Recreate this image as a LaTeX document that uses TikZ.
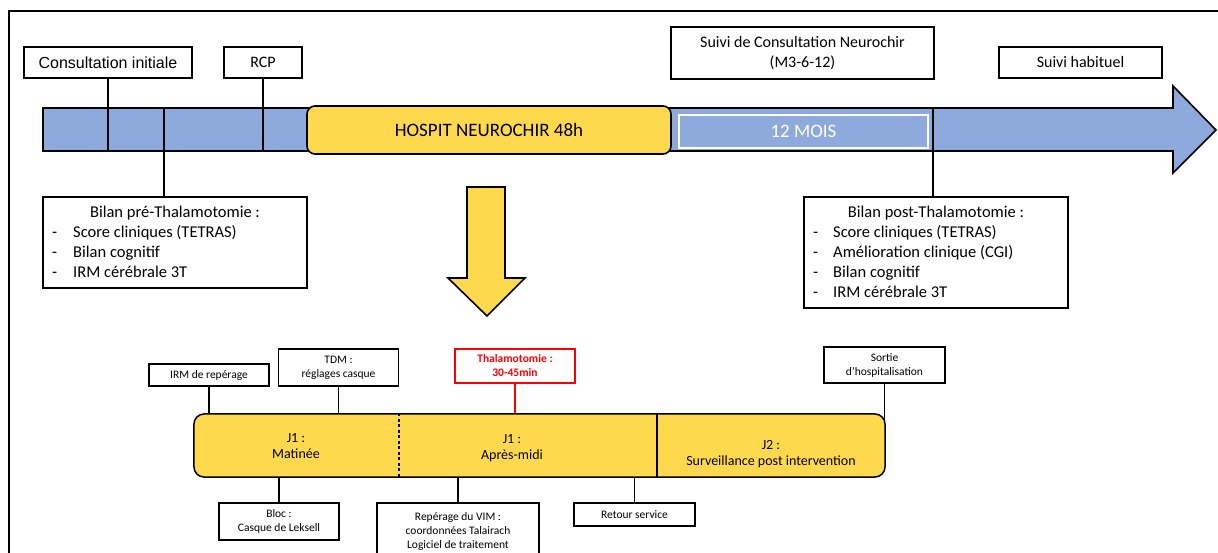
\documentclass[tikz,border=0pt]{standalone}
\usepackage{fontspec}
\setmainfont{Carlito}
\newfontfamily\arialf{Liberation Sans}
\definecolor{barblue}{RGB}{142,169,219}
\definecolor{hyellow}{RGB}{255,217,77}
\definecolor{tred}{RGB}{255,0,0}
\begin{document}
\begin{tikzpicture}[x=1bp,y=-1bp,
  box/.style={draw=black, line width=1.6bp, fill=white, inner sep=0pt, font=\fontsize{16bp}{20bp}\selectfont, align=center},
  sbox/.style={draw=black, line width=1.3bp, fill=white, inner sep=0pt, font=\fontsize{11.5bp}{14bp}\selectfont, align=center},
  link/.style={line width=1.8bp},
  slink/.style={line width=1.4bp},
  btxt/.style={inner sep=0pt, anchor=base, font=\fontsize{16.5bp}{20bp}\selectfont},
  ltxt/.style={inner sep=0pt, anchor=base west, font=\fontsize{16.5bp}{20bp}\selectfont},
  daytxt/.style={inner sep=0pt, align=center, font=\fontsize{14bp}{16bp}\selectfont}]
\useasboundingbox (0,0) rectangle (1218,553);
% outer frame
\draw[line width=1.4bp] (9,553) -- (9,11) -- (1218,11);
% timeline arrow
\draw[line width=1.6bp, fill=barblue, line join=miter] (43,108) -- (1173,108) -- (1173,86) -- (1216,130) -- (1173,173) -- (1173,151) -- (43,151) -- cycle;
\coordinate (barbot) at (0,151);
\coordinate (bartop) at (0,108);
% hospit box
\node[draw=black, line width=1.6bp, fill=hyellow, rounded corners=8bp, minimum width=364bp, minimum height=48bp, inner sep=0pt, font=\fontsize{19bp}{22bp}\selectfont] (hosp) at (489,130) {HOSPIT NEUROCHIR 48h};
\node[draw=white, line width=1.6bp, fill=barblue, minimum width=249bp, minimum height=33bp, inner sep=0pt, text=white, font=\fontsize{19bp}{22bp}\selectfont] (mois) at (803.5,131.5) {12 MOIS};
% top boxes
\node[box, minimum width=168bp, minimum height=31bp, font=\arialf\fontsize{16bp}{20bp}\selectfont] (ci) at (108,62.5) {Consultation initiale};
\node[box, minimum width=78bp, minimum height=31bp] (rcp) at (263,62.5) {RCP};
\node[box, minimum width=263bp, minimum height=52bp] (suivi) at (802.5,53) {Suivi de Consultation Neurochir\\(M3-6-12)};
\node[box, minimum width=163bp, minimum height=31bp] (hab) at (1080.5,62.5) {Suivi habituel};
\draw[link] (ci.south) -- (ci.south |- barbot);
\draw[link] (rcp.south) -- (rcp.south |- barbot);
% bilan boxes
\node[box, minimum width=264bp, minimum height=91bp] (bpre) at (175,242.5) {};
\node[box, minimum width=264bp, minimum height=111bp] (bpost) at (936,252.5) {};
\coordinate (t1) at (164,108);
\coordinate (t2) at (933,108);
\draw[link] (t1) -- (t1 |- bpre.north);
\draw[link] (t2) -- (t2 |- bpost.north);
\node[btxt] (pret) at (175,218) {Bilan pré-Thalamotomie :};
\node[ltxt] (pred1) at (52,238) {-};
\node[ltxt] (pre1) at (73,238) {Score cliniques (TETRAS)};
\node[ltxt] (pred2) at (52,258) {-};
\node[ltxt] (pre2) at (73,258) {Bilan cognitif};
\node[ltxt] (pred3) at (52,278) {-};
\node[ltxt] (pre3) at (73,278) {IRM cérébrale 3T};
\node[btxt] (postt) at (936,218) {Bilan post-Thalamotomie :};
\node[ltxt] (postd1) at (813,238) {-};
\node[ltxt] (post1) at (833,238) {Score cliniques (TETRAS)};
\node[ltxt] (postd2) at (813,258) {-};
\node[ltxt] (post2) at (833,258) {Amélioration clinique (CGI)};
\node[ltxt] (postd3) at (813,278) {-};
\node[ltxt] (post3) at (833,278) {Bilan cognitif};
\node[ltxt] (postd4) at (813,298) {-};
\node[ltxt] (post4) at (833,298) {IRM cérébrale 3T};
% down arrow
\draw[line width=1.6bp, fill=hyellow, line join=miter] (467,187) -- (505,187) -- (505,278) -- (525,278) -- (487,316) -- (448,278) -- (467,278) -- cycle;
% bottom bar
\node[draw=black, line width=1.5bp, fill=hyellow, rounded corners=10bp, minimum width=691bp, minimum height=63bp, inner sep=0pt] (day) at (539.5,445.5) {};
\coordinate (dv1) at (399,0);
\coordinate (dv2) at (657,0);
\draw[slink, dash pattern=on 3bp off 2.5bp] (day.north -| dv1) -- (day.south -| dv1);
\draw[slink] (day.north -| dv2) -- (day.south -| dv2);
\node[daytxt] (d1) at (296,446) {J1 :\\Matinée};
\node[daytxt] (d2) at (512,448) {J1 :\\Après-midi};
\node[daytxt] (d3) at (771,454) {J2 :\\Surveillance post intervention};
% small top boxes
\node[sbox, minimum width=120bp, minimum height=22bp] (irm) at (209,375) {IRM de repérage};
\node[sbox, minimum width=120bp, minimum height=37bp] (tdm) at (338.5,367.5) {TDM :\\réglages casque};
\node[sbox, draw=tred, text=tred, minimum width=120bp, minimum height=34bp, font=\bfseries\fontsize{11.5bp}{14bp}\selectfont] (thal) at (515,366) {Thalamotomie :\\30-45min};
\node[sbox, minimum width=121bp, minimum height=36bp] (sortie) at (884.5,365) {Sortie\\d’hospitalisation};
\coordinate (sortend) at (0,421);
\draw[slink] (irm.south) -- (irm.south |- day.north);
\draw[slink] (tdm.south) -- (tdm.south |- day.north);
\draw[slink, draw=tred] (thal.south) -- (thal.south |- day.north);
\draw[slink] (sortie.south) -- (sortie.south |- sortend);
% small bottom boxes
\node[sbox, minimum width=120bp, minimum height=37bp] (bloc) at (279,521.5) {Bloc :\\Casque de Leksell};
\node[sbox, minimum width=162bp, minimum height=56bp] (vim) at (458,531) {Repérage du VIM :\\coordonnées Talairach\\Logiciel de traitement};
\node[sbox, minimum width=121bp, minimum height=23bp] (ret) at (634.5,514.5) {Retour service};
\draw[slink] (bloc.north) -- (bloc.north |- day.south);
\draw[slink] (vim.north) -- (vim.north |- day.south);
\draw[slink] (ret.north) -- (ret.north |- day.south);
\end{tikzpicture}
\end{document}
